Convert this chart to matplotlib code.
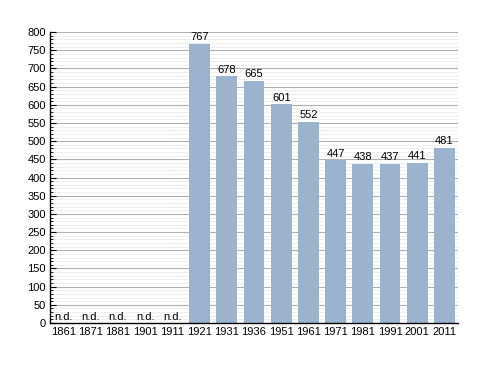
import matplotlib.pyplot as plt
import numpy as np

years = ['1861', '1871', '1881', '1901', '1911', '1921', '1931', '1936',
         '1951', '1961', '1971', '1981', '1991', '2001', '2011']
population = [None, None, None, None, None, 767, 678, 665,
              601, 552, 447, 438, 437, 441, 481]

fig = plt.figure(figsize=(4.88, 3.73), dpi=100)
ax = fig.add_axes([0.1025, 0.134, 0.836, 0.780])

x = np.arange(len(years))
vals = [v if v is not None else 0 for v in population]

ax.set_xlim(-0.5, len(years) - 0.5)
ax.set_ylim(0, 800)

# grid: minor every 10, major every 50
for yv in range(10, 800, 10):
    if yv % 50 == 0:
        ax.axhline(yv, color='#b0b0b0', lw=0.8, zorder=1)
    else:
        ax.axhline(yv, color='#ebebeb', lw=0.6, zorder=1)
ax.axhline(800, color='#b0b0b0', lw=0.8, zorder=1)

ax.bar(x, vals, width=0.77, color='#9bb3cc', zorder=2)

for xi, v in zip(x, population):
    if v is None:
        ax.text(xi, 3, 'n.d.', ha='center', va='bottom', fontsize=8,
                family='Liberation Sans', zorder=3)
    else:
        ax.text(xi, v + 5, str(v), ha='center', va='bottom', fontsize=8,
                family='Liberation Sans', zorder=3)

ax.set_xticks(x)
ax.set_xticklabels(years, family='Liberation Sans', fontsize=8)
ax.set_yticks(range(0, 801, 50))
ax.set_yticklabels([str(v) for v in range(0, 801, 50)],
                   family='Liberation Sans', fontsize=8)
ax.set_yticks(range(0, 801, 10), minor=True)
ax.tick_params(axis='x', length=0, pad=3)
ax.tick_params(axis='y', which='major', length=4, width=0.8, direction='in', pad=3)
ax.tick_params(axis='y', which='minor', length=2, width=0.6, direction='in')

for side in ['top', 'right']:
    ax.spines[side].set_visible(False)
ax.spines['left'].set_linewidth(1.0)
ax.spines['bottom'].set_linewidth(1.0)

fig.savefig('out.png', dpi=100)
